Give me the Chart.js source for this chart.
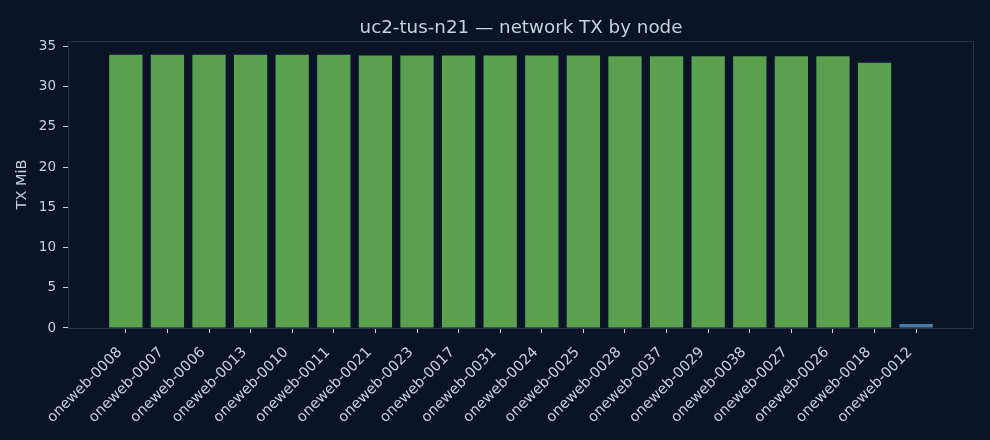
<!DOCTYPE html>
<html>
<head>
<meta charset="utf-8">
<title>uc2-tus-n21 network TX</title>
<script src="https://cdn.jsdelivr.net/npm/chart.js@4/dist/chart.umd.min.js"></script>
<style>
  html, body { margin: 0; padding: 0; background: #0b1427; }
  #wrap { width: 990px; height: 440px; position: relative; }
</style>
</head>
<body>
<div id="wrap"><canvas id="txChart"></canvas></div>
<script>
const nodes = [
    'oneweb-0008', 'oneweb-0007', 'oneweb-0006', 'oneweb-0013', 'oneweb-0010',
    'oneweb-0011', 'oneweb-0021', 'oneweb-0023', 'oneweb-0017', 'oneweb-0031',
    'oneweb-0024', 'oneweb-0025', 'oneweb-0028', 'oneweb-0037', 'oneweb-0029',
    'oneweb-0038', 'oneweb-0027', 'oneweb-0026', 'oneweb-0018', 'oneweb-0012'
];
const txMiB = [
    34.0, 34.0, 34.0, 34.0, 34.0,
    34.0, 33.9, 33.9, 33.9, 33.9,
    33.9, 33.9, 33.8, 33.8, 33.8,
    33.8, 33.8, 33.8, 33.0, 0.5
];
const barColors = txMiB.map(v => v > 1 ? '#59a14f' : '#4e79a7');
const yTicks = [0, 5, 10, 15, 20, 25, 30, 35];

const textColor = '#c9d1e0';
const frameColor = '#24324d';
const font = 'DejaVu Sans';

// plot frame on all four sides, like a matplotlib axes box
const frame = {
    id: 'frame',
    afterDatasetsDraw(chart) {
        const { ctx, chartArea: a } = chart;
        ctx.save();
        ctx.strokeStyle = frameColor;
        ctx.lineWidth = 1;
        ctx.strokeRect(a.left + 0.5, a.top + 0.5, a.right - a.left - 1, a.bottom - a.top);
        ctx.restore();
    }
};

Chart.defaults.color = textColor;
Chart.defaults.font.family = font;

const ctx = document.getElementById('txChart').getContext('2d');
new Chart(ctx, {
    type: 'bar',
    data: {
        datasets: [{
            data: txMiB.map((v, i) => ({ x: i, y: v })),
            backgroundColor: barColors,
            borderWidth: 0,
            categoryPercentage: 1.0,
            barPercentage: 0.8
        }]
    },
    plugins: [frame],
    options: {
        responsive: true,
        maintainAspectRatio: false,
        animation: false,
        layout: { padding: { left: 0, right: 16, top: 0, bottom: 0 } },
        plugins: {
            legend: { display: false },
            tooltip: { enabled: false },
            title: {
                display: true,
                fullSize: false, // centre over the plot area
                text: 'uc2-tus-n21 — network TX by node',
                color: textColor,
                font: { size: 18.3, weight: 'normal', family: font },
                padding: { top: 17, bottom: 2 }
            }
        },
        scales: {
            x: {
                type: 'linear',
                offset: false,
                min: -1.39,
                max: 20.39,
                border: { display: false },
                grid: { offset: false, drawOnChartArea: false, drawTicks: true, tickLength: 5, color: textColor, tickColor: textColor },
                afterBuildTicks: s => { s.ticks = nodes.map((_, i) => ({ value: i })); },
                afterFit: s => { s.height = 112; },
                ticks: {
                    autoSkip: false,
                    minRotation: 45,
                    maxRotation: 45,
                    padding: 11,
                    labelOffset: -6,
                    font: { size: 14.5 },
                    callback: (v, i) => nodes[i]
                }
            },
            y: {
                min: 0,
                max: 35.7,
                border: { display: false },
                grid: { drawOnChartArea: false, drawTicks: true, tickLength: 5, color: textColor, tickColor: textColor },
                afterBuildTicks: s => { s.ticks = yTicks.map(v => ({ value: v })); },
                afterFit: s => { s.width = 68; },
                ticks: { padding: 7, font: { size: 13.5 } },
                title: {
                    display: true,
                    text: 'TX MiB',
                    color: textColor,
                    font: { size: 14.5 },
                    padding: { top: 14, bottom: 0 }
                }
            }
        }
    }
});
</script>
</body>
</html>
